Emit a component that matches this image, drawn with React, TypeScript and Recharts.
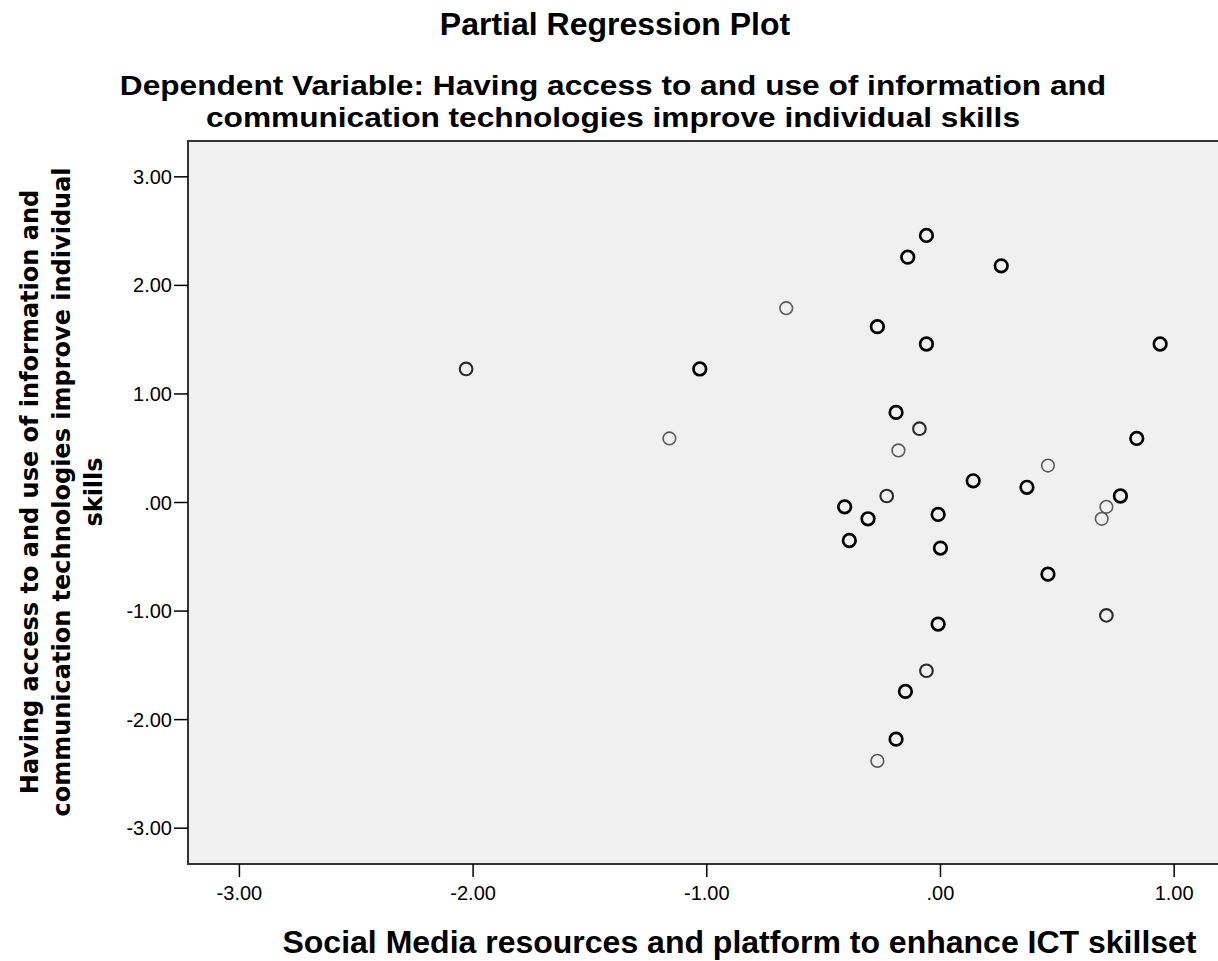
import React from "react";
import {
  ScatterChart,
  Scatter,
  XAxis,
  YAxis,
  CartesianGrid,
  ReferenceArea,
} from "recharts";

// values (x = social media resources, y = ICT access)
const darkX = [-1.03, -0.06, -0.14, 0.26, -0.27, -0.06, 0.94, -0.19, 0.84, 0.14, 0.37, -0.41, -0.31, -0.39, -0.01, 0.0, 0.77, 0.46, -0.01, -0.15, -0.19];
const darkY = [1.23, 2.46, 2.26, 2.18, 1.62, 1.46, 1.46, 0.83, 0.59, 0.2, 0.14, -0.04, -0.15, -0.35, -0.11, -0.42, 0.06, -0.66, -1.12, -1.74, -2.18];
const midX = [-2.03, -0.09, -0.23, 0.71, -0.06];
const midY = [1.23, 0.68, 0.06, -1.04, -1.55];
const lightX = [-1.16, -0.66, -0.18, 0.46, 0.71, 0.69, -0.27];
const lightY = [0.59, 1.79, 0.48, 0.34, -0.04, -0.15, -2.38];

const xTicks = [-3, -2, -1, 0, 1];
const yTicks = [-3, -2, -1, 0, 1, 2, 3];
const xDomain: [number, number] = [-3.22, 1.5];
const yDomain: [number, number] = [-3.33, 3.33];

const title = "Partial Regression Plot";
const subtitle1 = "Dependent Variable: Having access to and use of information and";
const subtitle2 = "communication technologies improve individual skills";
const xTitle = "Social Media resources and platform to enhance ICT skillset";
const yTitleLines = [
  "Having access to and use of information and",
  "communication technologies improve individual",
  "skills",
];

const toPoints = (xs: number[], ys: number[]) => xs.map((x, i) => ({ x, y: ys[i] }));

const fmt = (v: number) => (v === 0 ? ".00" : v.toFixed(2));

const ring = (stroke: string, width: number) => (props: any) => (
  <circle cx={props.cx} cy={props.cy} r={6.3} fill="none" stroke={stroke} strokeWidth={width} />
);

const sans = '"Liberation Sans", Arial, sans-serif';

const YLabel = () => {
  const xs = [30, 62, 94];
  return (
    <g>
      {yTitleLines.map((t, i) => (
        <text
          key={i}
          x={xs[i]}
          y={492}
          transform={`rotate(-90 ${xs[i]} 492)`}
          textAnchor="middle"
          dominantBaseline="central"
          fontFamily='"DejaVu Sans", sans-serif'
          fontWeight="bold"
          fontSize={24}
          fill="#000"
        >
          {t}
        </text>
      ))}
    </g>
  );
};

const XLabel = (props: any) => {
  const vb = props.viewBox || {};
  return (
    <text
      x={vb.x + vb.width / 2}
      y={942}
      textAnchor="middle"
      dominantBaseline="central"
      fontFamily={sans}
      fontWeight="bold"
      fontSize={32}
      fill="#000"
    >
      {xTitle}
    </text>
  );
};

const subStyle: React.CSSProperties = {
  position: "absolute",
  left: 0,
  width: 1226,
  textAlign: "center",
  fontWeight: "bold",
  fontSize: 28,
  lineHeight: "31.5px",
  transform: "scaleX(1.13)",
  transformOrigin: "613px 0",
  whiteSpace: "nowrap",
};

export default function App() {
  return (
    <div
      style={{
        position: "fixed",
        left: 0,
        top: 0,
        width: 1218,
        height: 961,
        overflow: "hidden",
        background: "#fff",
        fontFamily: sans,
      }}
    >
      <div style={{ position: "absolute", left: 0, top: 6, width: 1230, textAlign: "center", fontWeight: "bold", fontSize: 32, lineHeight: "36px" }}>
        {title}
      </div>
      <div style={{ ...subStyle, top: 70 }}>{subtitle1}</div>
      <div style={{ ...subStyle, top: 101.5 }}>{subtitle2}</div>
      <div style={{ position: "absolute", left: 0, top: 0 }}>
        <ScatterChart width={1291} height={961} margin={{ top: 141, right: 0, bottom: 0, left: 0 }}>
          <CartesianGrid fill="#f0f0f0" horizontal={false} vertical={false} />
          <XAxis
            type="number"
            dataKey="x"
            domain={xDomain}
            ticks={xTicks}
            allowDataOverflow
            height={97}
            axisLine={false}
            tickLine={{ stroke: "#000", strokeWidth: 1.5 }}
            tickSize={13}
            tickMargin={9}
            tickFormatter={fmt}
            tick={{ fill: "#000", fontSize: 20, fontFamily: sans }}
            label={<XLabel />}
          />
          <YAxis
            type="number"
            dataKey="y"
            domain={yDomain}
            ticks={yTicks}
            allowDataOverflow
            width={188}
            axisLine={false}
            tickLine={{ stroke: "#000", strokeWidth: 1.5 }}
            tickSize={14}
            tickMargin={2}
            tickFormatter={fmt}
            tick={{ fill: "#000", fontSize: 20, fontFamily: sans }}
            label={<YLabel />}
          />
          <ReferenceArea
            x1={xDomain[0]}
            x2={xDomain[1]}
            y1={yDomain[0]}
            y2={yDomain[1]}
            fill="none"
            stroke="#333"
            strokeWidth={2}
            ifOverflow="visible"
          />
          <Scatter data={toPoints(lightX, lightY)} shape={ring("#5a5a5a", 1.6)} isAnimationActive={false} />
          <Scatter data={toPoints(midX, midY)} shape={ring("#2a2a2a", 2.1)} isAnimationActive={false} />
          <Scatter data={toPoints(darkX, darkY)} shape={ring("#000", 2.7)} isAnimationActive={false} />
        </ScatterChart>
      </div>
    </div>
  );
}
